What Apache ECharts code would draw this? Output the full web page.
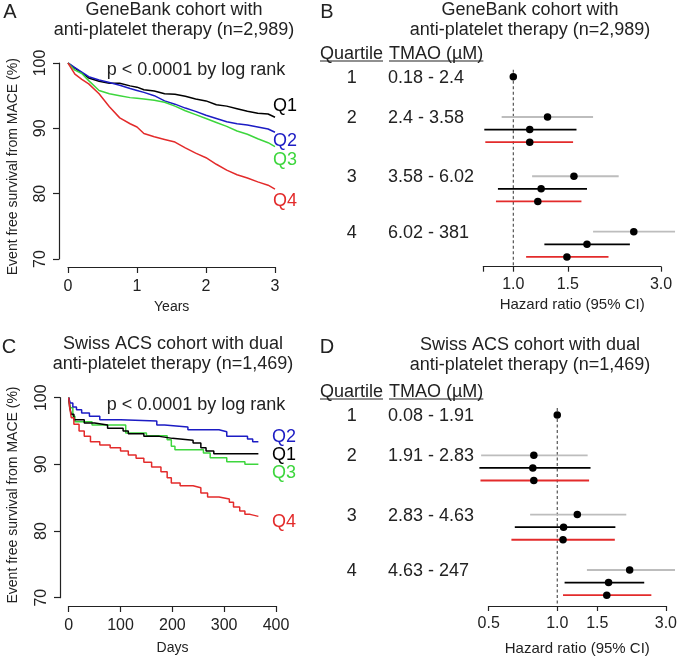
<!DOCTYPE html>
<html><head><meta charset="utf-8">
<script src="https://cdn.jsdelivr.net/npm/echarts@6/dist/echarts.min.js"></script>
<style>html,body{margin:0;padding:0;background:#fff}#c{width:680px;height:659px}</style>
</head><body><div id="c"></div>
<script>
const FONT = '"Liberation Sans", Arial, Helvetica, sans-serif';

// ---------- Panel A: GeneBank KM (years) ----------
const yearsA = [0,0.1,0.2,0.3,0.45,0.6,0.75,0.9,1.0,1.1,1.25,1.4,1.55,1.7,1.85,2.0,2.15,2.3,2.45,2.6,2.75,2.9,3.0];
const q1A = [100,99.2,98.5,97.7,97.2,96.9,96.9,96.5,96.3,95.9,95.7,95.3,95.2,94.9,94.5,94.2,93.6,93.4,93.0,92.6,92.3,92.2,91.7];
const q2A = [100,99.3,98.6,97.9,97.4,97.0,96.6,96.1,95.8,95.5,95.0,94.2,93.7,93.1,92.6,92.0,91.5,91.0,90.7,90.5,90.2,89.9,89.4];
const q3A = [100,98.9,98.4,97.3,95.8,95.3,95.0,94.7,94.6,94.5,94.3,94.0,93.4,92.7,92.1,91.5,90.9,90.3,89.6,89.1,88.4,87.8,87.2];
const q4A = [100,98.3,97.5,96.8,95.3,93.3,91.6,90.7,90.2,89.2,88.7,88.3,87.9,87.0,86.2,85.5,84.5,83.6,82.9,82.4,81.8,81.3,80.7];

// ---------- Panel C: Swiss ACS KM (days) ----------
const q1CDays = [0,2,5,10,30,50,75,105,115,145,175,200,240,255,265,280,366];
const q1C     = [100,98.5,97.5,96.7,96.2,95.9,95.4,95.0,94.6,94.2,93.9,93.6,93.2,92.5,92.0,91.6,91.6];
const q2CDays = [0,3,8,15,25,40,60,100,170,185,230,290,305,345,355,366];
const q2C     = [100,99.2,98.6,98.2,97.7,97.2,96.7,96.5,95.9,95.6,95.2,94.9,94.2,93.8,93.4,93.4];
const q3CDays = [0,3,8,12,45,110,150,190,198,205,260,273,305,340,366];
const q3C     = [100,98.5,97.2,96.4,95.9,94.7,94.3,93.7,92.7,92.2,91.7,91.0,90.4,90.0,89.9];
const q4CDays = [0,2,5,10,20,30,42,60,80,100,115,130,145,160,178,190,198,215,240,255,268,290,310,318,330,340,350,366];
const q4C     = [100,98.5,97.0,96.0,95.0,94.2,93.4,92.9,92.5,92.0,91.4,90.9,90.3,89.6,88.9,88.0,87.2,86.8,86.5,85.7,85.1,84.8,84.3,83.6,83.0,82.5,82.2,82.2];

// ---------- Forest plots ----------
const quartiles = ['1','2','3','4'];
const refHR = 1.0;
const tmaoB = ['0.18 - 2.4','2.4 - 3.58','3.58 - 6.02','6.02 - 381'];
// models: [grey, black, red]; values for quartiles 2,3,4
const hrB = [[1.29,1.57,2.45],[1.13,1.23,1.73],[1.13,1.20,1.49]];
const loB = [[0.917,1.15,1.81],[0.806,0.892,1.26],[0.812,0.879,1.10]];
const hiB = [[1.81,2.19,3.33],[1.60,1.73,2.38],[1.56,1.66,2.03]];
const ticksB = [0.8,1.0,1.5,3.0];
const labelsB = [1.0,1.5,3.0];

const tmaoD = ['0.08 - 1.91','1.91 - 2.83','2.83 - 4.63','4.63 - 247'];
const hrD = [[0.789,1.225,2.08],[0.781,1.066,1.68],[0.789,1.06,1.65]];
const loD = [[0.463,0.76,1.35],[0.455,0.651,1.077],[0.46,0.629,1.06]];
const hiD = [[1.36,2.01,3.29],[1.40,1.80,2.41],[1.38,1.79,2.59]];
const ticksD = [0.5,1.0,1.5,3.0];
const labelsD = [0.5,1.0,1.5,3.0];

// ---------- layout / style ----------
const modelColors = ['#bdbdbd','#000000','#e32b2b'];
const qColors = {Q1:'#000000', Q2:'#1c1cc4', Q3:'#3dd63d', Q4:'#e32b2b'};
const groupBase = [0, 3.2, 7.9, 12.3];
const subStep = 1.0;
const U = 12.6;

function zip(a,b){return a.map((v,i)=>[v,b[i]]);}

function forestLayout(row1Px, axisPx, oneX, threeX, minHR){
  const k = (threeX-oneX)/Math.log(3);
  const left = oneX + Math.log(minHR)*k;
  const top = row1Px - U;
  return {left, top, width: threeX-left, height: axisPx-top, yMax:(axisPx-row1Px)/U, row1Px};
}
const LB = forestLayout(76.7, 266.7, 513.3, 661, 0.8);
const LD = forestLayout(415, 606, 557.3, 666, 0.5);

function forestSeries(axisIdx, hr, lo, hi, yMax){
  const lines = [], pts = [[Math.log(refHR), groupBase[0]]];
  for (let m=0;m<3;m++) for (let q=0;q<3;q++){
    const y = groupBase[q+1] + m*subStep;
    lines.push([Math.log(lo[m][q]), Math.log(hi[m][q]), y, m]);
    pts.push([Math.log(hr[m][q]), y]);
  }
  return [
    {type:'custom', xAxisIndex:axisIdx, yAxisIndex:axisIdx, clip:false, silent:true,
     data:[[Math.log(refHR), -0.55, yMax]],
     renderItem:(p,api)=>{const a=api.coord([api.value(0),api.value(1)]), b=api.coord([api.value(0),api.value(2)]);
       return {type:'line', shape:{x1:a[0],y1:a[1],x2:b[0],y2:b[1]}, style:{stroke:'#444', lineWidth:1.1, lineDash:[3,2.5]}};}},
    {type:'custom', xAxisIndex:axisIdx, yAxisIndex:axisIdx, clip:false, silent:true, data:lines, z:3,
     renderItem:(p,api)=>{const a=api.coord([api.value(0),api.value(2)]), b=api.coord([api.value(1),api.value(2)]);
       return {type:'line', shape:{x1:a[0],y1:a[1],x2:b[0],y2:b[1]}, style:{stroke:modelColors[api.value(3)], lineWidth:1.8}};}},
    {type:'scatter', xAxisIndex:axisIdx, yAxisIndex:axisIdx, data:pts, symbol:'circle', symbolSize:7.5, clip:false, silent:true, z:5,
     itemStyle:{color:'#000', opacity:1}}
  ];
}

const axisLineStyle = {color:'#222', width:1.2};
function kmAxes(gi, xmin, xmax, xint, xoff, yoff){
  return {
    x:{type:'value', gridIndex:gi, min:xmin, max:xmax, interval:xint, offset:xoff,
       axisLine:{show:true, onZero:false, lineStyle:axisLineStyle}, axisTick:{show:true, length:6, lineStyle:axisLineStyle},
       axisLabel:{fontSize:16, color:'#222', fontFamily:FONT, margin:12}, splitLine:{show:false}},
    y:{type:'value', gridIndex:gi, min:70, max:100, interval:10, offset:yoff,
       axisLine:{show:true, onZero:false, lineStyle:axisLineStyle}, axisTick:{show:true, length:6, lineStyle:axisLineStyle},
       axisLabel:{fontSize:16, color:'#222', fontFamily:FONT, rotate:90, margin:10}, splitLine:{show:false}}
  };
}
const AA = kmAxes(0, 0, 3, 1, 8, 9);
const AC = kmAxes(1, 0, 400, 100, 8.3, 8.7);

function forestX(gi, L, minHR, ticks, labels, nameGap){
  return {type:'value', gridIndex:gi, position:'bottom', min:Math.log(minHR), max:Math.log(3),
    axisLine:{show:true, onZero:false, lineStyle:axisLineStyle},
    axisTick:{show:true, length:5, lineStyle:axisLineStyle, customValues:ticks.map(Math.log)},
    axisLabel:{fontSize:16, color:'#222', fontFamily:FONT, margin:10, customValues:labels.map(Math.log),
      formatter:v=>Math.exp(v).toFixed(1)},
    splitLine:{show:false},
    name:'Hazard ratio (95% CI)', nameLocation:'middle', nameGap:nameGap,
    nameTextStyle:{fontSize:15, color:'#222', fontFamily:FONT}};
}
function forestY(gi, L){
  return {type:'value', gridIndex:gi, inverse:true, min:-1, max:L.yMax, show:false};
}

function kmLine(xi, times, vals, color, step){
  return {type:'line', xAxisIndex:xi, yAxisIndex:xi, data:zip(times, vals), showSymbol:false, symbol:'none',
    step: step ? 'end' : false, lineStyle:{color, width:1.5}, itemStyle:{color}, silent:true};
}

// ---------- graphic texts ----------
const g = [];
function txt(text, x, y, opt){
  opt = opt||{};
  g.push({type:'text', x, y, rotation:opt.rot||0, silent:true,
    style:{text, font:(opt.size||18)+'px '+FONT, fill:opt.color||'#222', align:opt.align||'center', verticalAlign:'middle'}});
}
// titles
txt('GeneBank cohort with', 174, 10); txt('anti-platelet therapy (n=2,989)', 174, 30);
txt('GeneBank cohort with', 530, 10); txt('anti-platelet therapy (n=2,989)', 530, 30);
txt('Swiss ACS cohort with dual', 173, 344.5); txt('anti-platelet therapy (n=1,469)', 173, 364);
txt('Swiss ACS cohort with dual', 530, 345); txt('anti-platelet therapy (n=1,469)', 530, 365);
// panel letters
txt('A', 10, 12, {size:20}); txt('B', 327, 12, {size:20});
txt('C', 9, 347, {size:20}); txt('D', 327, 347, {size:20});
// p values
txt('p < 0.0001 by log rank', 106.7, 70, {align:'left'});
txt('p < 0.0001 by log rank', 106.7, 405, {align:'left'});
// axis titles
txt('Event free survival from MACE (%)', 13.3, 166.7, {size:14, rot:Math.PI/2});
txt('Event free survival from MACE (%)', 13.3, 495, {size:14, rot:Math.PI/2});
txt('Years', 171.7, 306.7, {size:14});
txt('Days', 172.5, 648.3, {size:14});
// Q labels
txt('Q1', 273, 106, {align:'left', color:qColors.Q1});
txt('Q2', 273, 141, {align:'left', color:qColors.Q2});
txt('Q3', 273, 160, {align:'left', color:qColors.Q3});
txt('Q4', 273, 201, {align:'left', color:qColors.Q4});
txt('Q2', 272, 436.7, {align:'left', color:qColors.Q2});
txt('Q1', 272, 455, {align:'left', color:qColors.Q1});
txt('Q3', 272, 473.3, {align:'left', color:qColors.Q3});
txt('Q4', 272, 521.7, {align:'left', color:qColors.Q4});

const mctx = document.createElement('canvas').getContext('2d');
mctx.font = '18px ' + FONT;
function header(y){
  txt('Quartile', 320, y, {align:'left'});
  txt('TMAO (\u00b5M)', 389, y, {align:'left'});
  const w1 = mctx.measureText('Quartile').width, w2 = mctx.measureText('TMAO (\u00b5M)').width;
  g.push({type:'line', silent:true, shape:{x1:320,y1:y+7,x2:320+w1,y2:y+7}, style:{stroke:'#222', lineWidth:1.2}});
  g.push({type:'line', silent:true, shape:{x1:389,y1:y+7,x2:389+w2,y2:y+7}, style:{stroke:'#222', lineWidth:1.2}});
}
header(54); header(392);
function rowLabels(L, tmao){
  for (let q=0;q<4;q++){
    const y = L.row1Px + groupBase[q]*U + 1;
    txt(quartiles[q], 351.7, y);
    txt(tmao[q], 388, y, {align:'left'});
  }
}
rowLabels(LB, tmaoB); rowLabels(LD, tmaoD);

const option = {
  animation:false,
  backgroundColor:'#fff',
  textStyle:{fontFamily:FONT},
  grid:[
    {left:68, top:63, width:207, height:196},
    {left:68.7, top:397.7, width:207.3, height:200},
    {left:LB.left, top:LB.top, width:LB.width, height:LB.height},
    {left:LD.left, top:LD.top, width:LD.width, height:LD.height}
  ],
  xAxis:[AA.x, AC.x, forestX(2, LB, 0.8, ticksB, labelsB, 31), forestX(3, LD, 0.5, ticksD, labelsD, 35)],
  yAxis:[AA.y, AC.y, forestY(2, LB), forestY(3, LD)],
  series:[
    kmLine(0, yearsA, q1A, qColors.Q1, false),
    kmLine(0, yearsA, q2A, qColors.Q2, false),
    kmLine(0, yearsA, q3A, qColors.Q3, false),
    kmLine(0, yearsA, q4A, qColors.Q4, false),
    kmLine(1, q3CDays, q3C, qColors.Q3, true),
    kmLine(1, q1CDays, q1C, qColors.Q1, true),
    kmLine(1, q2CDays, q2C, qColors.Q2, true),
    kmLine(1, q4CDays, q4C, qColors.Q4, true),
    ...forestSeries(2, hrB, loB, hiB, LB.yMax),
    ...forestSeries(3, hrD, loD, hiD, LD.yMax)
  ],
  graphic:{elements:g}
};
const chart = echarts.init(document.getElementById('c'));
chart.setOption(option);
</script>
</body></html>
